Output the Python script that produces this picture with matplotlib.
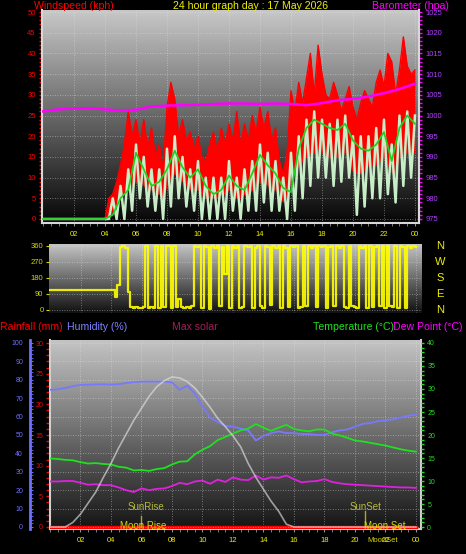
import numpy as np
import matplotlib.pyplot as plt
from matplotlib.colors import LinearSegmentedColormap
from matplotlib.ticker import MultipleLocator

plt.rcParams['font.family'] = ['Liberation Sans', 'DejaVu Sans']

W, H = 466, 554

# wind, 15 minute steps from 00:00 (kph)
gust_hi = [0] * 17 + [
    5, 6, 9,
    13, 18, 26, 20,
    24, 18, 24, 17,
    22, 15, 18, 12,
    27, 33, 29, 20,
    24, 19, 21, 17,
    20, 15, 14, 18,
    21, 16, 22, 18,
    23, 19, 26, 18,
    23, 19, 25, 21,
    27, 22, 26, 19,
    22, 14, 11, 16,
    31, 26, 33, 28,
    34, 40, 30, 42,
    35, 30, 29, 33,
    30, 26, 29, 32,
    27, 24, 28, 31,
    29, 27, 33, 36,
    32, 40, 38, 30,
    36, 44, 37, 35,
    36]
gust_lo = [0] * 17 + [
    0, 2, 3,
    5, 6, 7, 8,
    9, 9, 8, 7,
    7, 6, 6, 5,
    8, 10, 11, 10,
    9, 8, 7, 7,
    7, 6, 5, 5,
    5, 5, 6, 6,
    7, 6, 5, 5,
    6, 6, 7, 8,
    9, 9, 8, 7,
    7, 5, 4, 6,
    9, 11, 13, 14,
    15, 16, 16, 17,
    16, 15, 15, 15,
    15, 16, 16, 14,
    11, 11, 11, 12,
    13, 13, 13, 14,
    15, 13, 11, 11,
    15, 16, 16, 16,
    16]
wind_speed = [0] * 17 + [
    0, 5, 0,
    8, 0, 12, 2,
    18, 5, 15, 3,
    12, 2, 12, 0,
    17, 3, 20, 5,
    15, 3, 12, 2,
    14, 0, 10, 0,
    10, 0, 10, 0,
    14, 2, 10, 0,
    12, 2, 14, 2,
    18, 4, 16, 2,
    14, 2, 10, 0,
    16, 2, 20, 5,
    24, 8, 26, 10,
    24, 10, 23, 8,
    24, 9, 25, 10,
    20, 1, 20, 3,
    20, 5, 22, 5,
    24, 6, 18, 4,
    25, 8, 26, 10,
    25]
# average wind, 30 minute steps
wind_avg = [0] * 9 + [
    1, 5, 7, 16, 12, 8, 9, 12, 16.5, 12.5, 10, 12, 8, 6, 7, 10.5,
    8, 7, 11, 15.5, 13, 11, 7.5, 6.5, 17, 22, 24, 23, 22, 21.5, 23, 19,
    17, 16.5, 18, 21, 14, 22, 25, 23]
# barometer, hourly (hpa)
baro = [1001.0, 1001.5, 1001.7, 1001.8, 1001.5, 1001.2, 1001.4, 1002.2, 1002.4,
        1002.5, 1002.6, 1002.8, 1002.9, 1002.9, 1002.8, 1002.9, 1002.8, 1002.5,
        1003.0, 1003.7, 1004.0, 1004.6, 1005.4, 1006.4, 1007.7]

# wind direction, 10 minute steps (degrees)
wind_dir = [110] * 24 + [
    110, 110, 75, 140, 355, 360,
    350, 100, 15, 12, 18, 10,
    12, 15, 360, 10, 15, 12,
    360, 12, 360, 15, 360, 360,
    10, 360, 15, 60, 15, 12,
    15, 10, 20, 360, 355, 360,
    10, 360, 355, 5, 360, 350,
    360, 20, 355, 200, 360, 10,
    360, 350, 360, 10, 15, 360,
    355, 360, 10, 350, 360, 20,
    10, 360, 355, 30, 360, 350,
    360, 10, 360, 350, 15, 360,
    355, 360, 10, 15, 360, 20,
    360, 350, 360, 15, 360, 355,
    360, 10, 355, 360, 20, 360,
    350, 360, 15, 10, 360, 20,
    15, 10, 360, 350, 360, 10,
    360, 15, 355, 360, 20, 360,
    10, 360, 20, 15, 360, 10,
    360, 355, 10, 360, 350, 360,
    355]

# 30 minute steps
temperature = [14.9, 14.8, 14.6, 14.5, 14.1, 13.8, 13.9, 13.7, 13.6, 13.1, 12.9, 12.3,
               12.4, 12.2, 12.6, 12.8, 13.6, 14.2, 14.3, 15.8, 16.8, 17.6, 18.9, 19.6,
               20.3, 21.0, 21.4, 22.4, 21.6, 20.9, 21.6, 22.2, 21.3, 21.0, 20.8, 21.2,
               21.2, 20.3, 19.9, 19.4, 18.8, 18.6, 18.3, 18.0, 17.7, 17.3, 16.9, 16.6, 16.4]
dew_point = [9.9, 9.9, 10.0, 10.0, 9.6, 9.2, 9.3, 9.1, 9.1, 8.6, 8.0, 7.6,
             8.4, 8.0, 8.3, 8.4, 8.9, 9.6, 9.3, 9.9, 10.1, 9.4, 10.3, 9.8,
             10.8, 10.3, 10.2, 11.2, 10.3, 10.8, 10.7, 11.2, 10.4, 9.7, 9.9, 10.0,
             10.4, 9.8, 9.5, 9.3, 9.2, 9.1, 9.0, 8.9, 8.8, 8.7, 8.6, 8.6, 8.5]
humidity = [74.5, 74.8, 75.5, 76.5, 77.2, 77.3, 77.5, 77.5, 77.4, 77.6, 78.2, 78.7,
            79.0, 79.0, 79.0, 79.0, 78.6, 74.5, 76.8, 72.5, 65.5, 59.5, 57.0, 55.0,
            54.5, 53.5, 52.5, 47.0, 49.5, 51.0, 52.0, 51.0, 51.0, 50.5, 50.5, 50.0,
            50.0, 51.5, 52.5, 53.0, 54.5, 56.0, 56.5, 57.5, 58.0, 58.5, 59.5, 60.5, 61.0]
max_solar = [0, 0, 0, 25, 70, 130, 190, 270, 345, 430, 505, 580,
             645, 710, 762, 795, 815, 810, 790, 755, 705, 650, 590, 545,
             495, 436, 345, 270, 205, 140, 85, 15, 0, 0, 0, 0,
             0, 0, 0, 0, 0, 0, 0, 0, 0, 0, 0, 0, 0]
rainfall = [0.0] * 25

hour_labels = ['02', '04', '06', '08', '10', '12', '14', '16', '18', '20', '22', '00']
hour_ticks = list(range(2, 25, 2))

t15 = np.arange(len(gust_hi)) * 0.25
t30 = np.arange(len(wind_avg)) * 0.5
t60 = np.arange(len(baro))
t10 = np.arange(len(wind_dir)) / 6
th = np.arange(len(temperature)) * 0.5
tr = np.arange(len(rainfall))

YEL = '#f0f000'
GRID = dict(color='#e8e8e8', linestyle=(0, (1, 2)), linewidth=0.6, alpha=0.55)


def panel(x0, y0, x1, y1):
    return fig.add_axes([x0 / W, 1 - y1 / H, (x1 - x0) / W, (y1 - y0) / H])


def shade(ax, top, bottom):
    cmap = LinearSegmentedColormap.from_list('bg', [bottom, top])
    xa, xb = ax.get_xlim()
    ya, yb = ax.get_ylim()
    ax.imshow(np.linspace(1, 0, 256)[:, None], cmap=cmap, extent=[xa, xb, ya, yb],
              aspect='auto', zorder=0, interpolation='bilinear')
    ax.set_xlim(xa, xb)
    ax.set_ylim(ya, yb)


def label(x, y, s, color, size=7.6, ha='left'):
    fig.text(x / W, 1 - y / H, s, color=color, fontsize=size, ha=ha, va='center')


fig = plt.figure(figsize=(W / 100, H / 100), dpi=100, facecolor='black')

# ---------------- wind speed / barometer
ax1 = panel(42, 10, 419, 223)
ax1.set_xlim(-0.065, 24.26)
ax1.set_ylim(-0.97, 50.5)
shade(ax1, '#c8c8c8', '#060606')
ax1.fill_between(t15, gust_lo, gust_hi, color='#ff0000', lw=0, zorder=2)
ax1.plot(t15, gust_hi, color='#ff0000', lw=1, zorder=2)
ax1.plot(t15, wind_speed, color='#c8eec8', lw=1.8, zorder=3)
ax1.plot(t30, wind_avg, color='#22d022', lw=1.3, zorder=4)
ax1.set_yticks(range(0, 51, 5))
ax1.yaxis.set_minor_locator(MultipleLocator(1))
ax1.set_xticks(hour_ticks)
ax1.set_xticklabels(hour_labels)
ax1.xaxis.set_minor_locator(MultipleLocator(0.5))
ax1.tick_params(axis='y', which='both', colors='#ff0000', labelsize=5.5, length=2.5, width=1, pad=2)
ax1.tick_params(axis='x', which='both', colors='#909090', labelcolor=YEL, labelsize=5.5, length=2, pad=3.5)
ax1.set_axisbelow(True)
ax1.grid(True, **GRID)
ax1.spines['top'].set_visible(False)
for s in ['left', 'bottom', 'right']:
    ax1.spines[s].set_color('#d8d8d8')
    ax1.spines[s].set_linewidth(1.5)

ax1b = ax1.twinx()
ax1b.set_ylim(974.03, 1025.5)
ax1b.plot(t60, baro, color='#ff00ff', lw=1.8)
ax1b.set_yticks(range(975, 1026, 5))
ax1b.yaxis.set_minor_locator(MultipleLocator(1))
ax1b.tick_params(axis='y', which='both', colors='#ff00ff', labelcolor='#b040ff', labelsize=5.5, length=2.5, width=1, pad=2)
for s in ['left', 'bottom', 'top']:
    ax1b.spines[s].set_visible(False)
ax1b.spines['right'].set_color('#d8d8d8')
ax1b.spines['right'].set_linewidth(1.5)

label(34, 6, 'Windspeed (kph)', '#ff0000')
label(173, 6, '24 hour graph day : 17 May 2026', YEL)
label(372, 6, 'Barometer (hpa)', '#ff00ff')

# ---------------- wind direction
ax2 = panel(49, 244, 422, 313)
ax2.set_xlim(-0.066, 24.39)
ax2.set_ylim(-16.9, 371)
shade(ax2, '#c8c8c8', '#101010')
ax2.plot(t10, wind_dir, color='#ffff00', lw=1.6, alpha=0.9, drawstyle='steps-mid', zorder=3)
ax2.set_yticks([0, 90, 180, 270, 360])
ax2.set_xticks(hour_ticks)
ax2.set_xticklabels([])
ax2.tick_params(axis='y', colors='#d8d800', labelsize=5.5, length=2, pad=2)
ax2.tick_params(axis='x', length=0)
ax2.set_axisbelow(True)
ax2.grid(True, **GRID)
for s in ax2.spines.values():
    s.set_visible(False)
for deg, letter in zip([360, 270, 180, 90, 0], ['N', 'W', 'S', 'E', 'N']):
    ax2.text(1.048, deg, letter, color='#f0f000', fontsize=8, ha='center', va='center',
             transform=ax2.get_yaxis_transform())

# ---------------- rain / humidity / solar / temperature
ax3 = panel(50, 340, 421, 529)
ax3.set_xlim(0, 24.33)
ax3.set_ylim(-0.33, 30.5)
shade(ax3, '#c4c4c4', '#141414')
ax3.plot(tr, rainfall, color='#ff0000', lw=2.5, zorder=3)
ax3.set_yticks(range(0, 31, 5))
ax3.yaxis.set_minor_locator(MultipleLocator(1))
ax3.set_xticks(hour_ticks)
ax3.set_xticklabels(hour_labels)
ax3.xaxis.set_minor_locator(MultipleLocator(0.5))
ax3.tick_params(axis='y', which='both', colors='#ff0000', labelsize=5, length=3, width=1, pad=2)
ax3.tick_params(axis='x', which='both', colors='#909090', labelcolor=YEL, labelsize=5.5, length=2, pad=4)
ax3.set_axisbelow(True)
ax3.xaxis.grid(True, **GRID)
ax3.spines['top'].set_visible(False)
for s in ['left', 'bottom', 'right']:
    ax3.spines[s].set_color('#d0d0d0')
    ax3.spines[s].set_linewidth(1.5)

ax3h = ax3.twinx()
ax3h.set_ylim(-1.09, 101.6)
ax3h.yaxis.set_ticks_position('left')
ax3h.spines['left'].set_position(('axes', -20 / 371))
ax3h.spines['left'].set_visible(True)
ax3h.spines['left'].set_color('#7070ff')
ax3h.spines['left'].set_linewidth(2)
for s in ['right', 'top', 'bottom']:
    ax3h.spines[s].set_visible(False)
ax3h.set_yticks(range(0, 101, 10))
ax3h.yaxis.set_minor_locator(MultipleLocator(2))
ax3h.tick_params(axis='y', which='both', direction='in', colors='#7070ff', labelsize=5, length=2, pad=5)
ax3h.yaxis.grid(True, **GRID)
ax3h.plot(th, humidity, color='#7878ff', lw=1.3)

ax3t = ax3.twinx()
ax3t.set_ylim(-0.43, 40.65)
ax3t.plot(th, temperature, color='#20e020', lw=1.3)
ax3t.plot(th, dew_point, color='#e020e0', lw=1.3)
ax3t.set_yticks(range(0, 41, 5))
ax3t.yaxis.set_minor_locator(MultipleLocator(1))
ax3t.tick_params(axis='y', which='both', colors='#20e020', labelsize=5, length=2.5, width=1, pad=2)
for s in ax3t.spines.values():
    s.set_visible(False)

ax3s = ax3.twinx()
ax3s.set_ylim(-10.9, 1016)
ax3s.plot(th, max_solar, color='#e0e0e0', lw=1.2, alpha=0.65)
ax3s.set_yticks([])
for s in ax3s.spines.values():
    s.set_visible(False)

label(0, 327, 'Rainfall (mm)', '#ff0000')
label(67, 327, 'Humidity (%)', '#8080ff')
label(172, 327, 'Max solar', '#a0205a')
label(313, 327, 'Temperature (°C)', '#20e020')
label(393, 327, 'Dew Point (°C)', '#ff00ff')

# sun and moon events
ax3.plot([6.0, 6.0], [0, 1.8], color='#a8a830', lw=1, zorder=4)
ax3.plot([20.65, 20.65], [0, 2.6], color='#a8a830', lw=1, zorder=4)
label(146, 507, 'SunRise', '#b8b840', size=7, ha='center')
label(366, 507, 'SunSet', '#b8b840', size=7, ha='center')
label(143, 526, 'Moon Rise', '#d8d800', size=7, ha='center')
label(385, 526, 'Moon Set', '#d8d800', size=7, ha='center')
label(383, 540, 'MoonSet', '#d8d800', size=5.5, ha='center')

fig.savefig('out.png', dpi=100, facecolor='black')
